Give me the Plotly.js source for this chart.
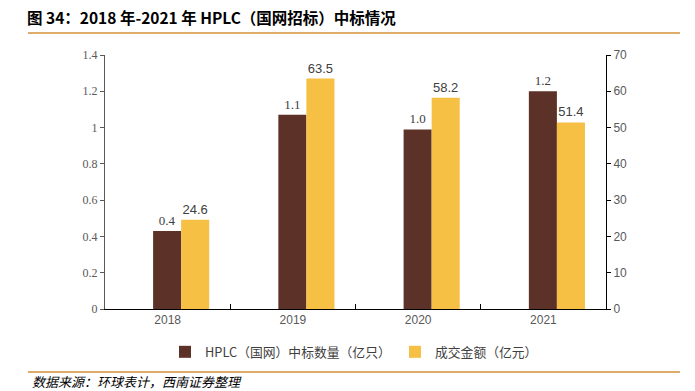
<!DOCTYPE html>
<html>
<head>
<meta charset="utf-8">
<script src="https://cdn.plot.ly/plotly-3.0.1.min.js"></script>
<style>html,body{margin:0;padding:0;background:#fff;}#chart{width:695px;height:391px;}</style>
</head>
<body>
<div id="chart"></div>
<script>
const years = ['2018', '2019', '2020', '2021'];
const hplcCount = [0.43, 1.07, 0.99, 1.2];       // 亿只
const hplcCountLabels = ['0.4', '1.1', '1.0', '1.2'];
const dealAmount = [24.6, 63.5, 58.2, 51.4];      // 亿元
const dealAmountLabels = ['24.6', '63.5', '58.2', '51.4'];
const seriesNames = ['HPLC（国网）中标数量（亿只）', '成交金额（亿元）'];
const titleText = '图 34：2018 年-2021 年 HPLC（国网招标）中标情况';
const sourceText = '数据来源：环球表计，西南证券整理';

const cjk = '"Noto Sans CJK SC", "Noto Sans", sans-serif';

const traces = [
  {
    type: 'bar', name: seriesNames[0], x: years, y: hplcCount,
    yaxis: 'y', width: 0.224, offset: -0.116,
    marker: {color: '#5C3128'},
    text: hplcCountLabels, textposition: 'outside', cliponaxis: false,
    textfont: {family: '"Liberation Serif", serif', size: 13, color: '#404040'}
  },
  {
    type: 'bar', name: seriesNames[1], x: years, y: dealAmount,
    yaxis: 'y2', width: 0.224, offset: 0.108,
    marker: {color: '#F5C044'},
    text: dealAmountLabels, textposition: 'outside', cliponaxis: false,
    textfont: {family: '"Liberation Sans", sans-serif', size: 13, color: '#404040'}
  }
];

const layout = {
  width: 695, height: 391,
  margin: {l: 105, r: 89, t: 55, b: 82},
  paper_bgcolor: '#fff', plot_bgcolor: '#fff',
  showlegend: true,
  title: {
    text: '<b>' + titleText + '</b>',
    x: 27 / 695, xref: 'container', xanchor: 'left',
    y: 1 - 19 / 391, yref: 'container', yanchor: 'middle',
    font: {family: cjk, size: 15.5, color: '#000'}
  },
  xaxis: {
    type: 'category', range: [-0.5, 3.5],
    showline: true, linecolor: '#000', linewidth: 1,
    ticks: 'inside', tickson: 'boundaries', ticklen: 5, tickcolor: '#000',
    showgrid: false, zeroline: false,
    tickfont: {family: '"Liberation Sans", sans-serif', size: 12, color: '#595959'}
  },
  yaxis: {
    range: [0, 1.4], dtick: 0.2, tick0: 0,
    showline: true, linecolor: '#595959', linewidth: 1,
    ticks: 'outside', ticklen: 4, tickcolor: '#595959',
    showgrid: false, zeroline: false,
    tickfont: {family: '"Liberation Serif", serif', size: 12, color: '#595959'}
  },
  yaxis2: {
    range: [0, 70], dtick: 10, tick0: 0,
    overlaying: 'y', side: 'right',
    showline: true, linecolor: '#000', linewidth: 1,
    ticks: 'outside', ticklen: 4, tickcolor: '#000',
    showgrid: false, zeroline: false,
    tickfont: {family: '"Liberation Sans", sans-serif', size: 12, color: '#595959'}
  },
  legend: {
    orientation: 'h', xref: 'container', yref: 'container',
    x: 165 / 695, xanchor: 'left', y: 1 - 352 / 391, yanchor: 'middle',
    font: {family: cjk, size: 12.8, color: '#404040'},
    itemwidth: 30, entrywidth: 185, entrywidthmode: 'pixels', traceorder: 'normal',
    bgcolor: 'rgba(0,0,0,0)'
  },
  shapes: [
    {type: 'line', xref: 'paper', yref: 'paper',
     x0: (28 - 105) / 501, x1: (680 - 105) / 501,
     y0: (309 - 33) / 254, y1: (309 - 33) / 254,
     line: {color: '#D4923A', width: 1.5}},
    {type: 'line', xref: 'paper', yref: 'paper',
     x0: (28 - 105) / 501, x1: (680 - 105) / 501,
     y0: (309 - 372) / 254, y1: (309 - 372) / 254,
     line: {color: '#D4923A', width: 1.5}}
  ],
  annotations: [
    {text: sourceText, xref: 'paper', yref: 'paper',
     x: (30 - 105) / 501, y: (309 - 381) / 254, xanchor: 'left', yanchor: 'middle',
     showarrow: false,
     font: {family: cjk, size: 13, color: '#000', style: 'italic'}}
  ]
};

Plotly.newPlot('chart', traces, layout, {displayModeBar: false, staticPlot: true});
</script>
</body>
</html>
